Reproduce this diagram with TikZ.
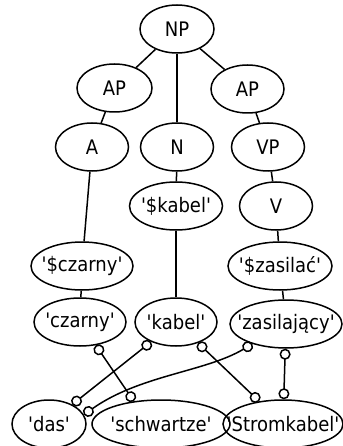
\documentclass[tikz,border=0pt]{standalone}
\usepackage{fontspec}
\usepackage{tikz}
\usetikzlibrary{arrows.meta,shapes.geometric}
\newfontfamily\labfont{DejaVu Sans}[FakeStretch=0.9]

\begin{document}
\begin{tikzpicture}[x=1pt, y=-1pt,
    word/.style={draw, ellipse, line width=1.5pt, inner xsep=-30pt, inner ysep=0pt,
        minimum width=73pt, minimum height=48pt, font=\labfont\fontsize{20}{24}\selectfont},
    edge/.style={line width=1.5pt},
    link/.style={line width=1.5pt, {Circle[open, length=11pt]}-{Circle[open, length=11pt]}}]
    \useasboundingbox (0,0) rectangle (342,446);

    % Phrase structure
    \node[word, minimum width=74pt] (np) at (177,29) {NP};
    \node[word, minimum width=75pt] (apl) at (114.5,88) {AP};
    \node[word] (apr) at (247.5,89) {AP};
    \node[word] (a) at (92,147) {A};
    \node[word] (n) at (177,147) {N};
    \node[word] (vp) at (268,147) {VP};
    \node[word, minimum width=93pt] (skabel) at (176,206) {'\$kabel'};
    \node[word] (v) at (276,206) {V};
    \node[word, minimum width=102pt] (sczarny) at (82,266) {'\$czarny'};
    \node[word, minimum width=104pt] (szasilac) at (280,266) {'\$zasilać'};

    % Polish words
    \node[word, minimum width=92pt] (czarny) at (80,322) {'czarny'};
    \node[word, minimum width=82pt] (kabel) at (176,322) {'kabel'};
    \node[word, minimum width=112pt] (zasilajacy) at (286,324) {'zasilający'};

    % German words
    \node[word, minimum width=74pt] (das) at (49,424) {'das'};
    \node[word, minimum width=138pt] (schwartze) at (161,424) {'schwartze'};
    \node[word, minimum width=120pt] (stromkabel) at (283,424) {'Stromkabel'};

    % Tree edges
    \draw[edge] (np) -- (apl);
    \draw[edge] (np) -- (n);
    \draw[edge] (np) -- (apr);
    \draw[edge] (apl) -- (a);
    \draw[edge] (apr) -- (vp);
    \draw[edge] (a) -- (sczarny);
    \draw[edge] (n) -- (skabel);
    \draw[edge] (vp) -- (v);
    \draw[edge] (v) -- (szasilac);
    \draw[edge] (sczarny) -- (czarny);
    \draw[edge] (skabel) -- (kabel);
    \draw[edge] (szasilac) -- (zasilajacy);

    % Translation links
    \draw[link] (czarny) -- (schwartze.140);
    \draw[link] (kabel) -- (das.40);
    \draw[link] (zasilajacy) .. controls (205,372) and (140,375) .. (das.15);
    \draw[link] (kabel) -- (stromkabel);
    \draw[link] (zasilajacy) -- (stromkabel);
\end{tikzpicture}
\end{document}
